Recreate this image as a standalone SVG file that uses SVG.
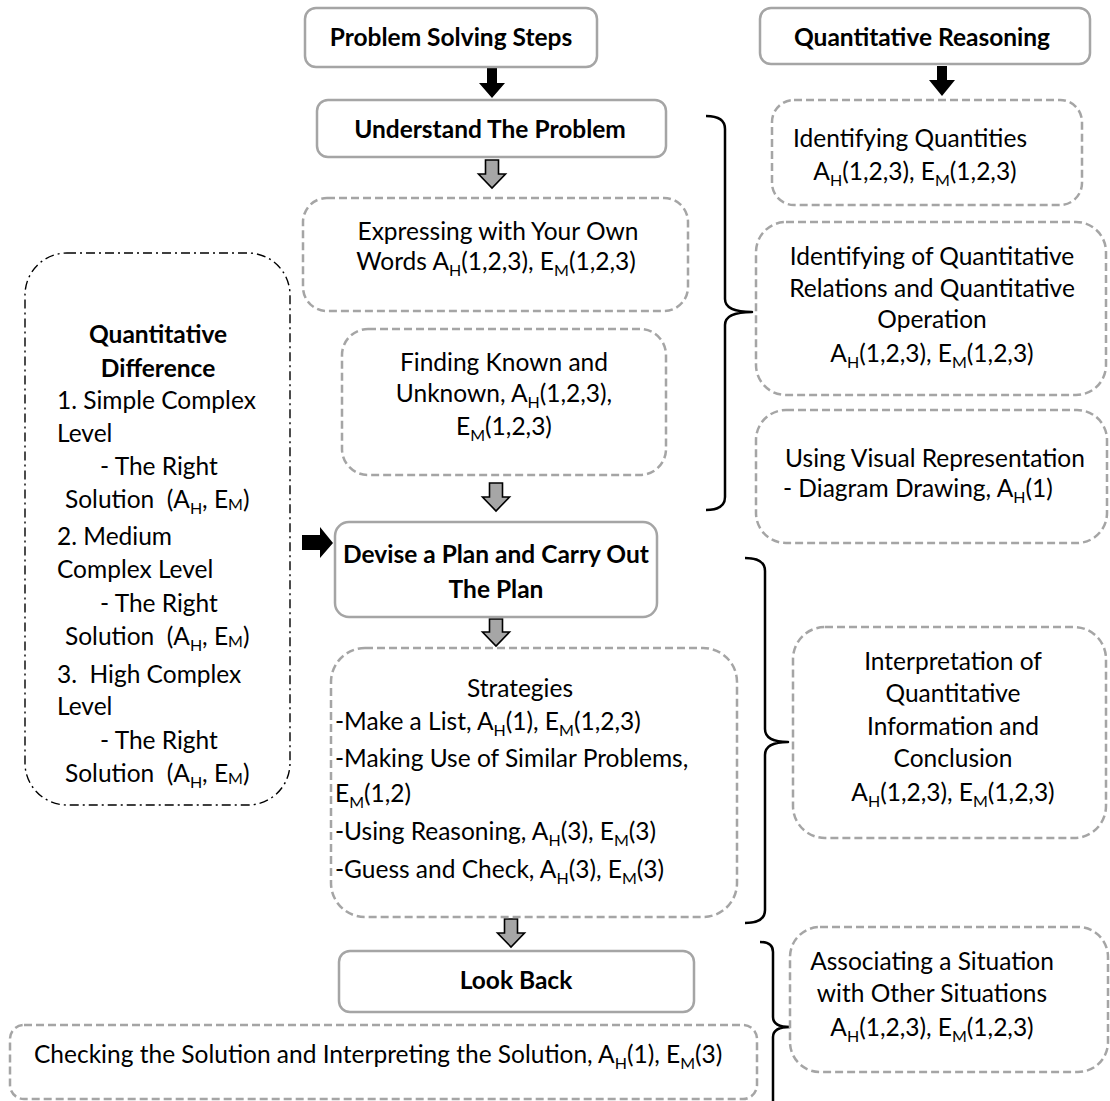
<svg xmlns="http://www.w3.org/2000/svg" width="1110" height="1101" viewBox="0 0 1110 1101">
  <style>
    .solid { fill: #ffffff; stroke: #a5a5a5; stroke-width: 2.5; }
    .dash { fill: #ffffff; stroke: #a5a5a5; stroke-width: 2.5; stroke-dasharray: 8 4; }
    .dashdot { fill: #ffffff; stroke: #000000; stroke-width: 1.4; stroke-dasharray: 9 4 2 4; }
    .brace { fill: none; stroke: #000000; stroke-width: 2.5; stroke-linejoin: round; }
    .hollow { fill: #a6a6a6; stroke: #000000; stroke-width: 1.6; stroke-linejoin: miter; }
    .solidarrow { fill: #000000; }
    text { font-family: Lato, "Liberation Sans", sans-serif; font-size: 24.5px; fill: #000000; }
    .b { font-weight: bold; }
    .c { text-anchor: middle; }
    .s { font-size: 16px; }
    .pre { white-space: pre; }
  </style>

  <!-- connectors: block arrows and braces -->
  <g id="connectors">
    <path class="solidarrow" d="M487,67 H497 V83 H505 L492,98 L479,83 H487 Z"/>
    <path class="solidarrow" d="M937,66 H947 V80 H955 L942,96 L929,80 H937 Z"/>
    <path class="solidarrow" d="M302,535 H320 V527 L333,543 L320,558 V550 H302 Z"/>
    <path class="hollow" d="M485.5,160 H498.5 V174 H505.5 L492,188 L478.5,174 H485.5 Z"/>
    <path class="hollow" d="M489.5,483 H502.5 V497 H509.5 L496,511 L482.5,497 H489.5 Z"/>
    <path class="hollow" d="M489.5,619 H502.5 V632 H509.5 L496,646 L482.5,632 H489.5 Z"/>
    <path class="hollow" d="M504.5,919 H517.5 V933 H524.5 L511,947 L497.5,933 H504.5 Z"/>
    <path class="brace" d="M706,116 Q725,116 725,129 V299 Q725,312 752,312 Q725,312 725,325 V497 Q725,510 706,510"/>
    <path class="brace" d="M745,558 Q765,558 765,571 V729 Q765,742 788,742 Q765,742 765,755 V910 Q765,923 745,923"/>
    <path class="brace" d="M760,942 Q773,942 773,952 V1017 Q773,1027 790,1027 Q773,1027 773,1037 V1115"/>
  </g>

  <g id="problem-solving-steps">
    <rect class="solid" x="305" y="8" width="292" height="59" rx="11"/>
    <text class="b c" x="451" y="46">Problem Solving Steps</text>
  </g>

  <g id="quantitative-reasoning">
    <rect class="solid" x="760" y="8" width="330" height="56" rx="11"/>
    <text class="b c" x="922" y="46">Quantitative Reasoning</text>
  </g>

  <g id="understand-the-problem">
    <rect class="solid" x="317" y="100" width="349" height="57" rx="11"/>
    <text class="b c" x="490" y="138">Understand The Problem</text>
  </g>

  <g id="expressing">
    <rect class="dash" x="303" y="198" width="385" height="113" rx="24"/>
    <text class="c" x="498" y="240">Expressing with Your Own</text>
    <text class="c" x="496" y="270">Words A<tspan class="s" dy="6">H</tspan><tspan dy="-6">(1,2,3), E</tspan><tspan class="s" dy="6">M</tspan><tspan dy="-6">(1,2,3)</tspan></text>
  </g>

  <g id="finding-known">
    <rect class="dash" x="342" y="329" width="324" height="146" rx="26"/>
    <text class="c" x="504" y="371">Finding Known and</text>
    <text class="c" x="504" y="402">Unknown, A<tspan class="s" dy="6">H</tspan><tspan dy="-6">(1,2,3),</tspan></text>
    <text class="c" x="504" y="435">E<tspan class="s" dy="6">M</tspan><tspan dy="-6">(1,2,3)</tspan></text>
  </g>

  <g id="quantitative-difference">
    <rect class="dashdot" x="25" y="253" width="265" height="552" rx="42"/>
    <text class="b c" x="158" y="343">Quantitative</text>
    <text class="b c" x="158" y="377">Difference</text>
    <text x="57" y="409">1. Simple Complex</text>
    <text x="57" y="442">Level</text>
    <text x="100" y="475">- The Right</text>
    <text class="pre" x="65" y="508">Solution  (A<tspan class="s" dy="6">H</tspan><tspan dy="-6">, E</tspan><tspan class="s" dy="2">M</tspan><tspan dy="-2">)</tspan></text>
    <text x="57" y="545">2. Medium</text>
    <text x="57" y="578">Complex Level</text>
    <text x="100" y="612">- The Right</text>
    <text class="pre" x="65" y="645">Solution  (A<tspan class="s" dy="6">H</tspan><tspan dy="-6">, E</tspan><tspan class="s" dy="2">M</tspan><tspan dy="-2">)</tspan></text>
    <text class="pre" x="57" y="683">3.  High Complex</text>
    <text x="57" y="715">Level</text>
    <text x="100" y="749">- The Right</text>
    <text class="pre" x="65" y="782">Solution  (A<tspan class="s" dy="6">H</tspan><tspan dy="-6">, E</tspan><tspan class="s" dy="2">M</tspan><tspan dy="-2">)</tspan></text>
  </g>

  <g id="devise-a-plan">
    <rect class="solid" x="335" y="522" width="322" height="95" rx="14"/>
    <text class="b c" x="496" y="563">Devise a Plan and Carry Out</text>
    <text class="b c" x="496" y="598">The Plan</text>
  </g>

  <g id="strategies">
    <rect class="dash" x="331" y="648" width="406" height="269" rx="34"/>
    <text class="c" x="520" y="697">Strategies</text>
    <text x="335" y="730">-Make a List, A<tspan class="s" dy="6">H</tspan><tspan dy="-6">(1), E</tspan><tspan class="s" dy="6">M</tspan><tspan dy="-6">(1,2,3)</tspan></text>
    <text x="335" y="767">-Making Use of Similar Problems,</text>
    <text x="335" y="802">E<tspan class="s" dy="6">M</tspan><tspan dy="-6">(1,2)</tspan></text>
    <text x="335" y="840">-Using Reasoning, A<tspan class="s" dy="6">H</tspan><tspan dy="-6">(3), E</tspan><tspan class="s" dy="6">M</tspan><tspan dy="-6">(3)</tspan></text>
    <text x="335" y="878">-Guess and Check, A<tspan class="s" dy="6">H</tspan><tspan dy="-6">(3), E</tspan><tspan class="s" dy="6">M</tspan><tspan dy="-6">(3)</tspan></text>
  </g>

  <g id="look-back">
    <rect class="solid" x="339" y="951" width="355" height="61" rx="11"/>
    <text class="b c" x="516" y="989">Look Back</text>
  </g>

  <g id="checking-the-solution">
    <rect class="dash" x="10" y="1025" width="747" height="74" rx="14"/>
    <text x="34" y="1063">Checking the Solution and Interpreting the Solution, A<tspan class="s" dy="6">H</tspan><tspan dy="-6">(1), E</tspan><tspan class="s" dy="6">M</tspan><tspan dy="-6">(3)</tspan></text>
  </g>

  <g id="identifying-quantities">
    <rect class="dash" x="772" y="100" width="310" height="105" rx="22"/>
    <text class="c" x="910" y="147">Identifying Quantities</text>
    <text class="c" x="915" y="180">A<tspan class="s" dy="6">H</tspan><tspan dy="-6">(1,2,3), E</tspan><tspan class="s" dy="6">M</tspan><tspan dy="-6">(1,2,3)</tspan></text>
  </g>

  <g id="quantitative-relations">
    <rect class="dash" x="756" y="222" width="350" height="173" rx="30"/>
    <text class="c" x="932" y="265">Identifying of Quantitative</text>
    <text class="c" x="932" y="297">Relations and Quantitative</text>
    <text class="c" x="932" y="328">Operation</text>
    <text class="c" x="932" y="362">A<tspan class="s" dy="6">H</tspan><tspan dy="-6">(1,2,3), E</tspan><tspan class="s" dy="6">M</tspan><tspan dy="-6">(1,2,3)</tspan></text>
  </g>

  <g id="visual-representation">
    <rect class="dash" x="756" y="410" width="351" height="133" rx="30"/>
    <text class="c" x="935" y="467">Using Visual Representation</text>
    <text x="783" y="497">- Diagram Drawing, A<tspan class="s" dy="6">H</tspan><tspan dy="-6">(1)</tspan></text>
  </g>

  <g id="interpretation">
    <rect class="dash" x="793" y="627" width="313" height="211" rx="32"/>
    <text class="c" x="953" y="670">Interpretation of</text>
    <text class="c" x="953" y="702">Quantitative</text>
    <text class="c" x="953" y="735">Information and</text>
    <text class="c" x="953" y="767">Conclusion</text>
    <text class="c" x="953" y="801">A<tspan class="s" dy="6">H</tspan><tspan dy="-6">(1,2,3), E</tspan><tspan class="s" dy="6">M</tspan><tspan dy="-6">(1,2,3)</tspan></text>
  </g>

  <g id="associating-situations">
    <rect class="dash" x="790" y="927" width="318" height="145" rx="30"/>
    <text class="c" x="932" y="970">Associating a Situation</text>
    <text class="c" x="932" y="1002">with Other Situations</text>
    <text class="c" x="932" y="1036">A<tspan class="s" dy="6">H</tspan><tspan dy="-6">(1,2,3), E</tspan><tspan class="s" dy="6">M</tspan><tspan dy="-6">(1,2,3)</tspan></text>
  </g>
</svg>
